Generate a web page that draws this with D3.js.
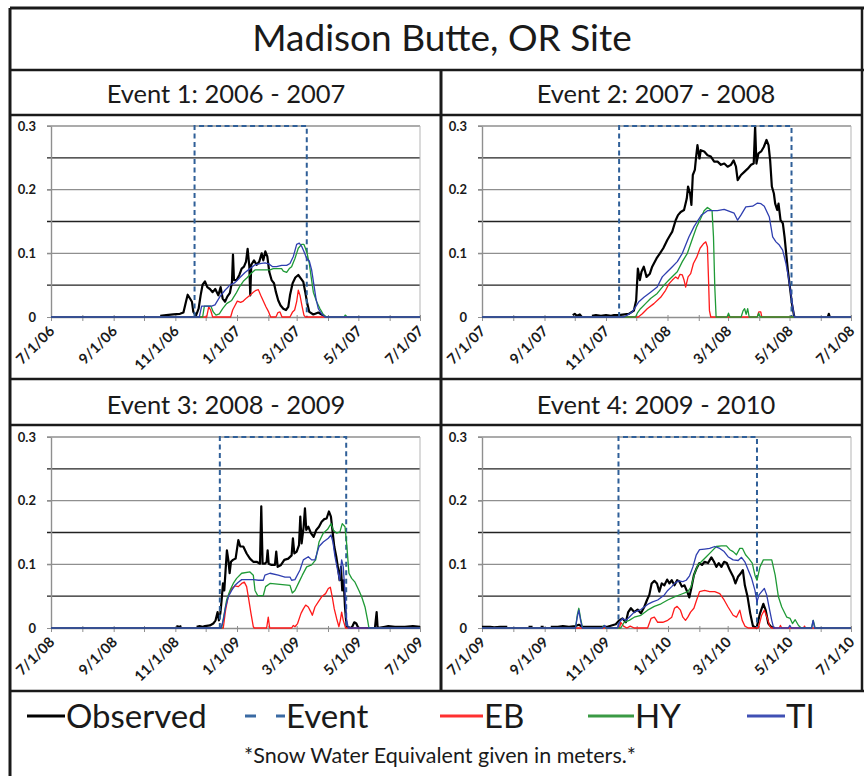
<!DOCTYPE html>
<html>
<head>
<meta charset="utf-8">
<script src="https://cdn.jsdelivr.net/npm/d3@7"></script>
<style>
  body { margin: 0; background: #fff; }
  svg text { font-family: Lato, "Open Sans", sans-serif; fill: #1a1a1a; }
</style>
</head>
<body>
<svg id="chart"></svg>
<script>
// ---- data ----
// series points are [days since 1 July of the season's first year, SWE in m]; null = gap in record
const mainTitle = "Madison Butte, OR Site";
const panelTitles = ["Event 1: 2006 - 2007", "Event 2: 2007 - 2008", "Event 3: 2008 - 2009", "Event 4: 2009 - 2010"];
const seriesNames = ["Observed", "Event", "EB", "HY", "TI"];
const footnote = "*Snow Water Equivalent given in meters.*";

const yTicks = [0, 0.1, 0.2, 0.3];
const yGrid = [0.05, 0.1, 0.15, 0.2, 0.25, 0.3];

const xTicks1 = ["7/1/06", "9/1/06", "11/1/06", "1/1/07", "3/1/07", "5/1/07", "7/1/07"];
const xTicks2 = ["7/1/07", "9/1/07", "11/1/07", "1/1/08", "3/1/08", "5/1/08", "7/1/08"];
const xTicks3 = ["7/1/08", "9/1/08", "11/1/08", "1/1/09", "3/1/09", "5/1/09", "7/1/09"];
const xTicks4 = ["7/1/09", "9/1/09", "11/1/09", "1/1/10", "3/1/10", "5/1/10", "7/1/10"];

const event1 = ["11/20/06", "3/11/07"];
const event2 = ["11/14/07", "5/3/08"];
const event3 = ["12/15/08", "4/19/09"];
const event4 = ["11/13/09", "3/30/10"];

const obs1 = [[108,0.002],[114,0.003],[121,0.004],[127.6,0.005],[131,0.007],[133.5,0.024],[135.2,0.035],[137.5,0.029],[139.4,0.024],[140.8,0.008],[143.4,0.002],[146,0.013],[148,0.034],[150,0.051],[152.3,0.056],[154.6,0.047],[157.2,0.044],[159.9,0.039],[162.5,0.044],[165.5,0.034],[167.8,0.047],[169.8,0.029],[172.1,0.024],[174.4,0.032],[177,0.038],[179,0.055],[180,0.098],[181,0.058],[183.6,0.058],[186.3,0.066],[188.6,0.076],[190.9,0.079],[192.9,0.087],[194.5,0.107],[196.2,0.079],[197.1,0.034],[198.1,0.082],[200.8,0.089],[203.4,0.082],[206,0.087],[208.4,0.1],[210,0.089],[212,0.103],[214,0.095],[215.9,0.071],[218.2,0.058],[220.6,0.053],[222.5,0.039],[224.8,0.026],[227.1,0.018],[229.8,0.013],[232.4,0.011],[234.7,0.016],[236.4,0.034],[239,0.053],[241.7,0.062],[244.6,0.066],[246.9,0.061],[249.6,0.055],[251.5,0.039],[253.5,0.021],[255.5,0.008],[259.5,0.004],[264.4,0.007],[267.7,0.004],[271,0.001]];
const eb1 = [[0,0],[154,0],[156,0.016],[157.9,0.011],[159.9,0],[177.7,0],[179.7,0.011],[182,0.018],[184.3,0.025],[187.6,0.023],[190.2,0.025],[193.5,0.03],[196.8,0.034],[200.1,0.039],[202.8,0.042],[205.1,0.043],[207.4,0.034],[210,0.025],[212.6,0.016],[215.3,0.008],[217.3,0],[222.5,0],[224.5,0.007],[226.5,0.008],[228.5,0],[236.4,0],[239,0.008],[241,0.011],[243,0.024],[244.6,0.042],[246.3,0.034],[248.2,0.018],[250.2,0.003],[251.5,0],[365,0]];
const hy1 = [[0,0],[150,0],[151.7,0.017],[158.2,0.017],[160.5,0.008],[163.2,0.003],[166.5,0.005],[169.8,0.013],[173.7,0.021],[178.7,0.026],[183,0.037],[186.3,0.047],[190.2,0.056],[194.2,0.062],[197.5,0.068],[201.8,0.074],[210,0.074],[216.6,0.074],[219.9,0.076],[228.1,0.076],[229.8,0.072],[233.1,0.07],[235.7,0.076],[238,0.079],[241.3,0.092],[244.6,0.108],[247.9,0.114],[250.2,0.114],[252.9,0.103],[255.5,0.084],[257.5,0.061],[259.5,0.039],[262.8,0.024],[266.1,0.013],[269.4,0.004],[272,0],[290,0],[291,0.003],[293,0],[365,0]];
const ti1 = [[0,0],[146.7,0],[149,0.017],[158.9,0.017],[162.2,0.019],[167.1,0.032],[172.1,0.042],[177,0.05],[182,0.054],[186.9,0.062],[191.9,0.07],[196.8,0.076],[201.8,0.082],[206.7,0.084],[211.7,0.085],[216,0.083],[219.2,0.079],[223.2,0.079],[228.1,0.081],[233.1,0.081],[236.4,0.084],[239.7,0.095],[243,0.114],[245.6,0.116],[247.9,0.111],[250.2,0.103],[252.9,0.092],[255.5,0.088],[257.8,0.074],[260.1,0.05],[262.1,0.029],[264.4,0.013],[267.7,0.005],[271,0],[365,0]];

const obs2 = [[90,0.003],[92,0.005],[94,0.002],[97,0.004],[99,0],[99.5,null],[109,0.002],[113,0.003],[118,0.002],[123,0.003],[128,0.002],[131,0.003],[135.6,0.003],[145.6,0.005],[150.6,0.01],[152.9,0.026],[154.6,0.076],[156.6,0.058],[158.2,0.071],[160.5,0.079],[163.2,0.063],[166.5,0.068],[168.8,0.079],[173.1,0.092],[176.5,0.1],[179.8,0.108],[183.8,0.121],[186.4,0.128],[188.7,0.134],[192.1,0.152],[194.4,0.16],[197.1,0.165],[200.4,0.168],[203.1,0.186],[204.4,0.205],[206.4,0.194],[207.7,0.176],[209.1,0.223],[211.1,0.231],[212.4,0.252],[213.7,0.27],[215.7,0.249],[217,0.262],[220.4,0.26],[223.7,0.254],[227,0.252],[230.3,0.244],[233.7,0.244],[237,0.239],[240.3,0.241],[243.6,0.236],[246.9,0.239],[249.6,0.246],[251.9,0.236],[253.6,0.215],[256.9,0.223],[260.2,0.228],[263.6,0.233],[266.9,0.239],[269.5,0.241],[270.9,0.3],[272.2,0.241],[274.2,0.257],[276.9,0.26],[279.5,0.267],[282.2,0.278],[284.2,0.27],[285.8,0.246],[287.5,0.205],[289.5,0.194],[290.8,0.178],[292.8,0.168],[294.1,0.178],[296.1,0.152],[298.4,0.147],[300.1,0.126],[301.7,0.1],[303.4,0.073],[305.4,0.047],[307.4,0.021],[309.4,0.003],[310,0],[310.5,null],[343,0],[344,0.005],[345,0]];
const eb2 = [[0,0],[155,0],[159,0.005],[163.9,0.013],[170.5,0.021],[177.2,0.031],[182.1,0.042],[185.4,0.052],[188.8,0.058],[192.1,0.063],[194.4,0.06],[196.4,0.067],[198.7,0.066],[200.4,0.058],[202,0.047],[204.4,0.063],[207,0.068],[209.7,0.084],[213,0.094],[216.3,0.108],[219.6,0.115],[222,0.118],[223.6,0.11],[224.6,0.063],[225.6,0.01],[226.9,0],[273,0],[274.5,0.008],[276.5,0.008],[277.5,0],[366,0]];
const hy2 = [[0,0],[152.3,0],[154,0.006],[157.2,0.013],[162.2,0.021],[167.2,0.029],[173.8,0.037],[180.5,0.05],[185.4,0.058],[190.4,0.066],[193.7,0.071],[198.7,0.087],[203.7,0.1],[208.7,0.123],[213,0.142],[217,0.155],[220.3,0.167],[223.6,0.172],[226.3,0.169],[228.2,0.167],[229.6,0.126],[230.9,0.047],[232.2,0],[243,0],[244.5,0.006],[246,0],[257,0],[259,0.01],[260.5,0.013],[262,0.004],[263.5,0.013],[265,0],[273,0],[274.5,0.006],[276,0],[366,0]];
const ti2 = [[0,0],[140.7,0],[144,0.003],[149,0.008],[152.3,0.016],[155.6,0.024],[160.6,0.031],[167.2,0.039],[173.8,0.047],[178.8,0.063],[183.8,0.071],[188.8,0.079],[193.7,0.087],[198.7,0.1],[202,0.113],[205.3,0.126],[210.3,0.142],[214.3,0.152],[217.6,0.16],[220.3,0.163],[223.6,0.167],[233.5,0.167],[240.2,0.169],[246.8,0.165],[250.1,0.163],[253.5,0.152],[256.8,0.16],[261.7,0.173],[268.4,0.174],[273.3,0.179],[276.7,0.178],[280,0.174],[285,0.157],[288.3,0.126],[291.6,0.118],[294.9,0.113],[298.2,0.105],[301.5,0.084],[303.9,0.063],[305.8,0.042],[308.2,0.016],[309.8,0],[366,0]];

const obs3 = [[124,0.003],[127,0.002],[129,0.003],[129.5,null],[144,0.002],[147,0.003],[150,0.002],[152.3,0.003],[157.2,0.004],[160.5,0.007],[162.8,0.012],[164.8,0.025],[166.1,0.012],[167.5,0.023],[168.8,0.044],[170.1,0.07],[171.4,0.059],[172.7,0.091],[174,0.122],[175.4,0.107],[176.7,0.086],[178,0.104],[180,0.107],[182.6,0.109],[185.3,0.138],[187.2,0.128],[190.2,0.128],[193.5,0.117],[196.8,0.109],[200.1,0.104],[203.4,0.104],[206.7,0.101],[208,0.191],[209.3,0.101],[211.6,0.101],[213.3,0.104],[214.3,0.122],[215.3,0.101],[218.2,0.099],[221.5,0.099],[222.8,0.12],[224.2,0.096],[227.5,0.099],[230.8,0.107],[234.7,0.109],[238,0.114],[239.3,0.141],[240.7,0.117],[243,0.12],[245.3,0.13],[246.6,0.175],[247.9,0.133],[249.9,0.159],[251.2,0.188],[252.5,0.154],[254.5,0.159],[257.1,0.149],[259.8,0.143],[262.4,0.154],[265.1,0.159],[267.7,0.167],[270.3,0.171],[272.6,0.172],[274.9,0.183],[276.9,0.175],[278.2,0.156],[280.2,0.128],[282.2,0.112],[284.2,0.091],[285.5,0.075],[286.8,0.096],[288.1,0.059],[289.5,0.075],[290.8,0.033],[292.4,0.002],[297.4,0],[300,0.009],[302,0.007],[304,0],[320.4,0],[322.1,0.025],[323.1,0],[330.3,0.002],[333.6,0.003],[340.2,0.002],[350,0.002],[358,0.003],[365,0.002]];
const eb3 = [[0,0],[170.4,0],[172.7,0.028],[175.4,0.051],[178.7,0.062],[182,0.066],[185.3,0.065],[188.6,0.07],[191.2,0.072],[193.5,0.065],[195.2,0.049],[197.8,0.023],[200.1,0.002],[201.1,0],[213.3,0],[214.9,0.017],[216.3,0],[238,0],[239.7,0.004],[241.3,0.002],[243.9,0.007],[247.3,0.023],[249.6,0.03],[251.9,0.036],[254.5,0.033],[257.1,0.025],[258.5,0.02],[261.1,0.033],[264.4,0.041],[267.7,0.049],[271.6,0.054],[274.3,0.062],[276.3,0.064],[278.2,0.049],[280.2,0.03],[282.5,0.015],[284.8,0.002],[286.2,0.012],[287.5,0.025],[289.1,0.012],[291.4,0],[365,0]];
const hy3 = [[0,0],[168.8,0],[171.4,0.023],[173.7,0.044],[177,0.059],[180.3,0.07],[183.6,0.078],[188.6,0.086],[196.8,0.088],[200.1,0.083],[201.8,0.059],[204.4,0.051],[210,0.051],[212.3,0.065],[216.6,0.07],[236.4,0.067],[238.7,0.055],[241.3,0.059],[245.3,0.072],[248.6,0.083],[252.9,0.096],[257.8,0.099],[261.8,0.107],[265.1,0.135],[269.3,0.149],[273.6,0.155],[277,0.164],[279.2,0.154],[282.5,0.149],[285.8,0.151],[288.1,0.164],[290.8,0.159],[292.7,0.128],[294.7,0.086],[297.4,0.078],[300.7,0.072],[304.6,0.059],[307.3,0.049],[310.6,0.033],[313.2,0.012],[314.5,0],[365,0]];
const ti3 = [[0,0],[168.1,0],[170.4,0.012],[172.7,0.033],[175.4,0.049],[178.7,0.059],[182,0.067],[185.3,0.072],[188.6,0.076],[200.1,0.076],[205.1,0.075],[210,0.075],[211.6,0.083],[216.6,0.086],[224.8,0.083],[231.4,0.08],[236.4,0.08],[238,0.075],[241.3,0.076],[246.3,0.091],[249.6,0.107],[254.5,0.112],[257.8,0.107],[261.1,0.107],[265.1,0.128],[269.3,0.135],[274.3,0.141],[277,0.146],[278.9,0.135],[280.9,0.112],[283.5,0.091],[285.5,0.075],[287.5,0.107],[289.1,0.096],[290.8,0.054],[292.4,0.012],[294.1,0],[365,0]];

const obs4 = [[0,0.002],[8,0.002],[12,0.001],[18,0.002],[25,0.002],[25.5,null],[46,0.002],[50,0.002],[50.5,null],[58,0.002],[61,0.002],[61.5,null],[68,0.002],[75,0.002],[80,0.003],[86,0.002],[92.5,0.003],[95.8,0.005],[99.2,0.002],[110,0.002],[124,0.002],[132.3,0.006],[135.6,0.012],[139,0.015],[142.3,0.009],[144.6,0.025],[147.3,0.031],[150.6,0.025],[153.9,0.029],[157.2,0.023],[160.5,0.033],[163.2,0.044],[165.5,0.052],[167.8,0.07],[170.5,0.074],[173.1,0.07],[175.4,0.057],[177.8,0.07],[180.4,0.067],[183.1,0.076],[185.4,0.07],[187.7,0.075],[190.4,0.067],[193,0.075],[195.3,0.073],[197.7,0.065],[200.3,0.067],[203,0.057],[205,0.048],[207,0.062],[209.6,0.083],[212.3,0.094],[215,0.102],[217.6,0.099],[220.2,0.104],[223.5,0.102],[226.9,0.111],[229.5,0.104],[231.8,0.096],[234.2,0.102],[236.8,0.096],[239.5,0.104],[242.1,0.102],[245.1,0.091],[248.4,0.081],[250.7,0.07],[253.4,0.081],[256,0.086],[258,0.091],[260,0.067],[262.7,0.049],[265.3,0.023],[268,0.003],[271.6,0],[275,0.023],[278.3,0.038],[280.6,0.028],[283.2,0.007],[285.9,0.002],[289.9,0]];
const eb4 = [[0,0],[136,0],[137.3,0.009],[140,0.003],[143.3,0],[146.6,0.003],[150.6,0],[163.8,0],[167.2,0.015],[170.5,0.017],[173.8,0.009],[178.8,0.009],[183.7,0.012],[187.7,0.017],[190.4,0.031],[193,0.034],[196.3,0.028],[198.7,0.017],[201.3,0.012],[203.6,0.017],[206.3,0.025],[209.6,0.031],[212.3,0.044],[215.2,0.057],[220.2,0.059],[225.2,0.057],[230.2,0.057],[235.2,0.054],[239.5,0.044],[243.4,0.033],[248.4,0.02],[251.7,0.017],[255,0.028],[257.4,0.012],[260,0.003],[263.3,0],[273.3,0],[276.6,0.02],[279.3,0.028],[281.9,0.017],[284.6,0.003],[286.5,0],[294,0],[295.2,0.004],[296.5,0],[318,0],[319,0.003],[320,0],[365,0]];
const hy4 = [[0,0],[92.5,0],[94.2,0.02],[95.8,0.031],[97.5,0.015],[99.5,0],[118.5,0],[120.7,0.004],[122.5,0],[137.3,0],[140.6,0.009],[145.6,0.012],[150.6,0.017],[157.2,0.02],[163.8,0.028],[170.5,0.034],[177.1,0.038],[183.7,0.044],[190.4,0.049],[197,0.053],[203.6,0.057],[206.9,0.065],[210.3,0.086],[213.6,0.099],[216.9,0.104],[221.9,0.112],[226.9,0.12],[231.8,0.128],[236.8,0.129],[241.8,0.129],[245.1,0.123],[248.4,0.12],[251.7,0.115],[255,0.125],[257.7,0.125],[260.7,0.115],[264,0.109],[267.3,0.102],[270,0.083],[272,0.075],[275,0.096],[278.3,0.107],[286.6,0.107],[290,0.083],[293.2,0.049],[296.5,0.033],[301.5,0.017],[304.8,0.015],[307.1,0.007],[309.8,0.013],[313.1,0.004],[315.7,0],[326,0],[327.7,0.012],[329.5,0],[365,0]];
const ti4 = [[0,0],[92.5,0],[94.2,0.017],[95.8,0.028],[97.5,0.012],[99.2,0],[119,0],[121.4,0.004],[123,0],[134,0],[136,0.009],[139,0.015],[142.3,0.012],[145.6,0.017],[150.6,0.025],[157.2,0.029],[163.8,0.037],[168.8,0.041],[173.8,0.044],[180.4,0.052],[183.7,0.059],[187.7,0.065],[190.4,0.07],[194.3,0.074],[198.7,0.073],[202,0.075],[205.3,0.082],[208.6,0.096],[212,0.115],[215.2,0.123],[220.2,0.124],[225.2,0.125],[230.2,0.128],[235.2,0.125],[239.5,0.12],[243.4,0.112],[248.4,0.107],[253.4,0.106],[256.7,0.111],[260,0.104],[263.3,0.091],[266.7,0.078],[270,0.059],[272,0.041],[274,0.052],[276.6,0.057],[279.3,0.062],[281.6,0.052],[283.9,0.033],[286.6,0.012],[288.5,0],[303,0],[304.5,0.004],[306,0],[326,0],[327.5,0.012],[329,0],[365,0]];

// ---- layout ----
const W = 864, H = 776;
const plotW = 369, plotH = 191;
const colors = { obs: "#000000", event: "#2f5f98", eb: "#ff1a1a", hy: "#1f9a36", ti: "#2f3fb0" };

const panels = [
  { title: panelTitles[0], ticks: xTicks1, event: event1, obs: obs1, eb: eb1, hy: hy1, ti: ti1, x0: 51,  y0: 126, cx: 226 },
  { title: panelTitles[1], ticks: xTicks2, event: event2, obs: obs2, eb: eb2, hy: hy2, ti: ti2, x0: 482, y0: 126, cx: 656 },
  { title: panelTitles[2], ticks: xTicks3, event: event3, obs: obs3, eb: eb3, hy: hy3, ti: ti3, x0: 51,  y0: 437, cx: 226 },
  { title: panelTitles[3], ticks: xTicks4, event: event4, obs: obs4, eb: eb4, hy: hy4, ti: ti4, x0: 482, y0: 437, cx: 656 }
];

const svg = d3.select("#chart").attr("width", W).attr("height", H);
svg.append("rect").attr("width", W).attr("height", H).attr("fill", "#fff");

const parse = d3.timeParse("%m/%d/%y");
const fmt = d3.timeFormat("%-m/%-d/%y");

panels.forEach(p => {
  const start = parse(p.ticks[0]);
  const end = parse(p.ticks[p.ticks.length - 1]);
  const x = d3.scaleTime().domain([start, end]).range([0, plotW]);
  const y = d3.scaleLinear().domain([0, 0.3]).range([plotH, 0]);
  const dayDate = d => new Date(+start + d * 864e5);

  const g = svg.append("g").attr("transform", `translate(${p.x0},${p.y0})`);

  // horizontal gridlines (major grey, minor dark)
  g.selectAll("line.grid")
    .data(yGrid)
    .join("line")
    .attr("class", "grid")
    .attr("x1", -4).attr("x2", plotW)
    .attr("y1", d => y(d)).attr("y2", d => y(d))
    .attr("stroke", d => Math.round(d * 100) % 10 === 5 ? "#222" : "#8f8f8f")
    .attr("stroke-width", 1.4);

  g.append("line")
    .attr("x1", plotW).attr("x2", plotW).attr("y1", 0).attr("y2", plotH)
    .attr("stroke", "#b5b5b5").attr("stroke-width", 1);

  // y axis
  const yAxis = g.append("g").call(
    d3.axisLeft(y).tickValues(yTicks).tickSize(4).tickSizeOuter(0).tickPadding(11)
      .tickFormat(d => d === 0 ? "0" : d3.format(".1f")(d))
  );
  yAxis.select(".domain").attr("stroke", "#8f8f8f").attr("stroke-width", 1.4);
  yAxis.selectAll(".tick line").attr("stroke", "#8f8f8f");
  yAxis.selectAll("text").attr("font-size", 13).attr("font-weight", "bold")
    .attr("font-family", "Lato, sans-serif").attr("fill", "#222");

  // x axis, monthly ticks with labels every two months
  const months = d3.timeMonth.range(start, d3.timeDay.offset(end, 1));
  const xAxis = g.append("g").attr("transform", `translate(0,${plotH})`).call(
    d3.axisBottom(x).tickValues(months).tickSize(4).tickSizeOuter(0)
      .tickFormat(d => p.ticks.includes(fmt(d)) ? fmt(d) : "")
  );
  xAxis.select(".domain").attr("stroke", "#8f8f8f").attr("stroke-width", 1.4);
  xAxis.selectAll(".tick line").attr("stroke", "#8f8f8f").attr("y1", -2);
  xAxis.selectAll("text")
    .attr("x", 0).attr("y", 0).attr("dy", 0)
    .attr("transform", "translate(4,15) rotate(-45)")
    .attr("text-anchor", "end")
    .attr("font-size", 14.5).attr("font-weight", "bold")
    .attr("font-family", "Lato, sans-serif").attr("fill", "#222");

  const line = d3.line()
    .defined(d => d[1] != null)
    .x(d => x(dayDate(d[0])))
    .y(d => y(d[1]));

  g.append("path").datum(p.obs).attr("d", line)
    .attr("fill", "none").attr("stroke", colors.obs).attr("stroke-width", 2.2).attr("stroke-linejoin", "round");

  const e0 = parse(p.event[0]), e1 = parse(p.event[1]);
  const evLine = d3.line().x(d => x(d[0])).y(d => y(d[1]));
  g.append("path").datum([[e0, 0], [e0, 0.3], [e1, 0.3], [e1, 0]]).attr("d", evLine)
    .attr("fill", "none").attr("stroke", colors.event).attr("stroke-width", 2)
    .attr("stroke-dasharray", "5,3.5");

  [["eb", p.eb], ["hy", p.hy], ["ti", p.ti]].forEach(([k, data]) => {
    g.append("path").datum(data).attr("d", line)
      .attr("fill", "none").attr("stroke", colors[k]).attr("stroke-width", 1.3).attr("stroke-linejoin", "round");
  });

  // panel header
  svg.append("text")
    .attr("x", p.cx).attr("y", p.y0 - 23)
    .attr("text-anchor", "middle")
    .attr("font-size", 25.5)
    .text(p.title);
});

// ---- table frame ----
const frame = [
  [10, 8, 864, 8, 3], [10, 8, 10, 776, 3], [10, 70, 864, 70, 2.5],
  [10, 115, 862, 115, 2.5], [10, 379, 862, 379, 2.5], [10, 425, 862, 425, 2.5],
  [10, 691, 864, 691, 2.5], [441, 70, 441, 691, 3], [862, 8, 862, 691, 2.5]
];
svg.selectAll("line.frame")
  .data(frame)
  .join("line")
  .attr("class", "frame")
  .attr("x1", d => d[0]).attr("y1", d => d[1]).attr("x2", d => d[2]).attr("y2", d => d[3])
  .attr("stroke", "#1a1a1a").attr("stroke-width", d => d[4]);

svg.append("text")
  .attr("x", 442).attr("y", 51)
  .attr("text-anchor", "middle")
  .attr("font-size", 37)
  .text(mainTitle);

// ---- legend ----
const legendX = [27, 245, 440, 588, 747];
const legendLen = [38, 40, 43, 46, 38];
const legendColor = [colors.obs, "#3a6aa3", "#ff3030", "#3a9a44", "#4050b4"];
const lg = svg.append("g");
seriesNames.forEach((name, i) => {
  const l = lg.append("line")
    .attr("x1", legendX[i]).attr("x2", legendX[i] + legendLen[i])
    .attr("y1", 716).attr("y2", 716)
    .attr("stroke", legendColor[i]).attr("stroke-width", 3);
  if (name === "Event") l.attr("stroke-dasharray", "11,20");
  lg.append("text")
    .attr("x", legendX[i] + legendLen[i] + 1).attr("y", 728)
    .attr("font-size", 33)
    .text(name);
});

svg.append("text")
  .attr("x", 440).attr("y", 763)
  .attr("text-anchor", "middle")
  .attr("font-size", 21.5)
  .text(footnote);
</script>
</body>
</html>
